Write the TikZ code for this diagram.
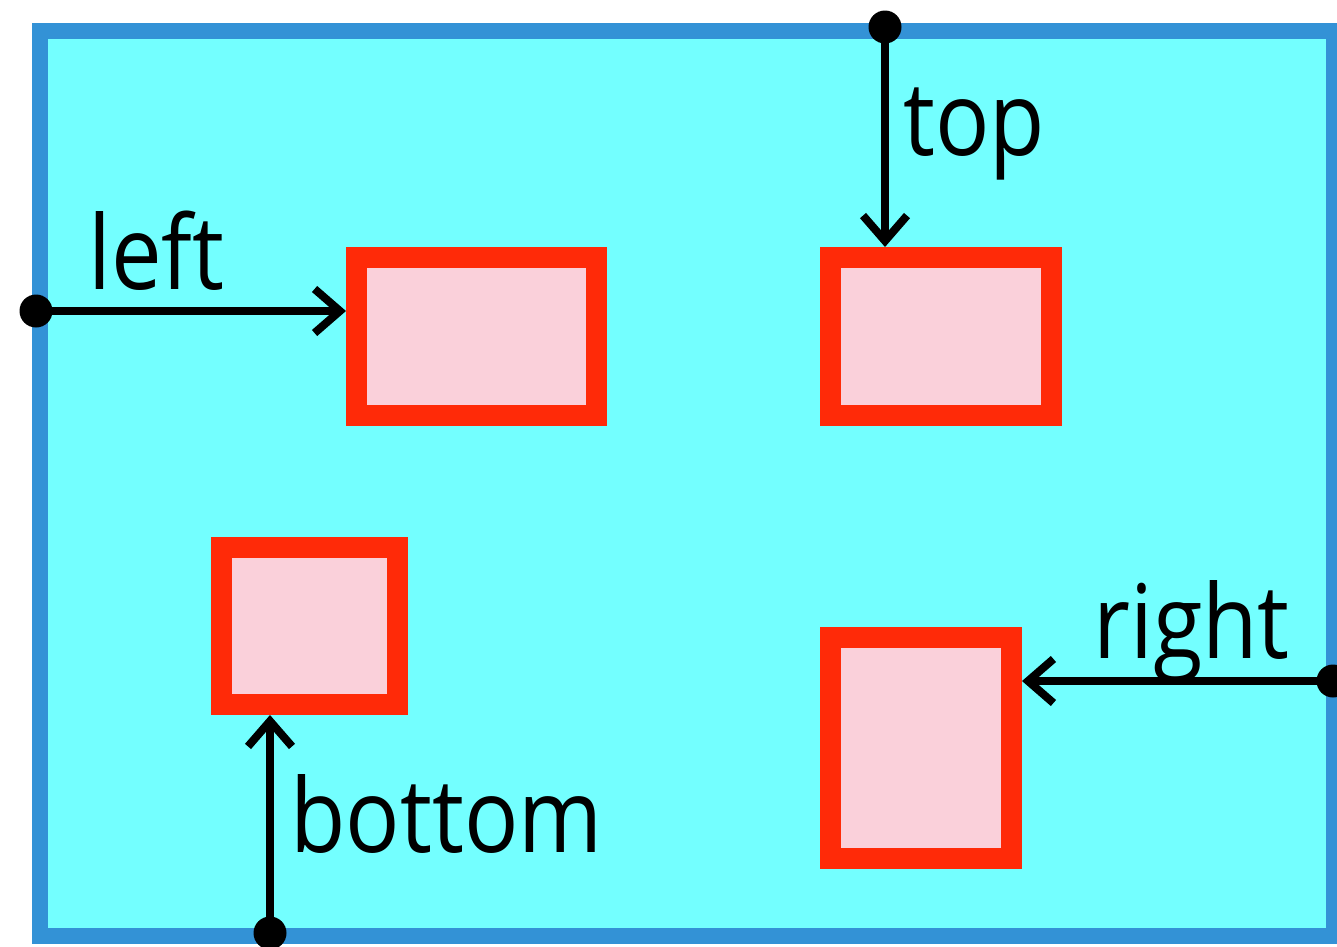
\documentclass[tikz,border=0pt]{standalone}
\usepackage{fontspec}
\setmainfont{Open Sans}
\usetikzlibrary{arrows.meta}
\definecolor{bgcyan}{RGB}{115,255,255}
\definecolor{frameblue}{RGB}{51,146,214}
\definecolor{boxred}{RGB}{255,42,8}
\definecolor{boxpink}{RGB}{250,208,218}
\tikzset{
  redbox/.style={draw=boxred, fill=boxpink, line width=15.75pt, inner sep=0pt, rectangle},
  dotnode/.style={circle, fill=black, inner sep=0pt, minimum size=24.75pt},
  conn/.style={line width=6pt, -{Straight Barb[length=19pt,width=33pt]}},
  lbl/.style={anchor=base west, inner sep=0pt, font=\fontsize{77}{77}\selectfont}
}
\newcommand{\sq}[1]{\scalebox{0.88}[1]{#1}}
\begin{document}
\begin{tikzpicture}[x=0.75pt,y=-0.75pt]
\useasboundingbox (0,0) rectangle (1337,946);
\fill[white] (0,0) rectangle (1337,946);
\draw[draw=frameblue, fill=bgcyan, line width=12pt] (39.5,30.5) rectangle (1333.5,936);
\node[redbox, minimum width=180pt, minimum height=118.5pt] (b1) at (476.5,336.5) {};
\node[redbox, minimum width=165.75pt, minimum height=118.5pt] (b2) at (941,336.5) {};
\node[redbox, minimum width=132pt, minimum height=117.75pt] (b3) at (309.5,626) {};
\node[redbox, minimum width=135.75pt, minimum height=165.75pt] (b4) at (921,748) {};
\node[dotnode] (dL) at (36,311) {};
\node[dotnode] (dT) at (885,27) {};
\node[dotnode] (dB) at (270,933) {};
\node[dotnode] (dR) at (1333,681) {};
\draw[conn] (dL.center) -- (dL.center -| b1.west);
\draw[conn] (dT.center) -- (dT.center |- b2.north);
\draw[conn] (dB.center) -- (dB.center |- b3.south);
\draw[conn] (dR.center) -- (dR.center -| b4.east);
\node[lbl] (tl) at (88,289) {\sq{left}};
\node[lbl] (tt) at (903,155) {\sq{top}};
\node[lbl] (tr) at (1093,658) {\sq{right}};
\node[lbl] (tb) at (290,852) {\sq{bottom}};
\end{tikzpicture}
\end{document}
